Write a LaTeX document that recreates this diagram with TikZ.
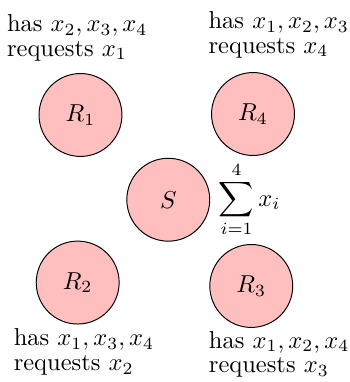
\documentclass[tikz,border=0pt]{standalone}
\usepackage{amsmath}
\usepackage{xcolor}
\usepackage{tikz}
\usetikzlibrary{positioning}

\begin{document}
\begin{tikzpicture}[
  node distance=1mm,
  party/.style={circle, draw, fill=pink, minimum size=11.9mm, inner sep=0pt},
  info/.style={align=left}
]
\useasboundingbox (-2.415,-2.616) rectangle (2.607,2.866);

\node[party] (s) {$S$};
\node[right=0pt of s] (sum) {$\displaystyle\sum_{i=1}^{4} x_i$};

\node[party] (r1) at (-1.260, 1.216) {$R_1$};
\node[party] (r4) at (1.216, 1.230) {$R_4$};
\node[party] (r2) at (-1.300, -1.189) {$R_2$};
\node[party] (r3) at (1.191, -1.238) {$R_3$};

% what each one holds and asks for
\node[info, above=0.5mm of r1, xshift=-0.46mm] (has1) {has $x_2, x_3, x_4$\\[-2pt] requests $x_1$};
\node[info, above=0.8mm of r4, xshift=3.7mm] (has4) {has $x_1, x_2, x_3$\\[-2pt] requests $x_4$};
\node[info, below=-0.6mm of r2, xshift=0.9mm] (has2) {has $x_1, x_3, x_4$\\[-2pt] requests $x_2$};
\node[info, below=-0.8mm of r3, xshift=4mm] (has3) {has $x_1, x_2, x_4$\\[-2pt] requests $x_3$};
\end{tikzpicture}
\end{document}
